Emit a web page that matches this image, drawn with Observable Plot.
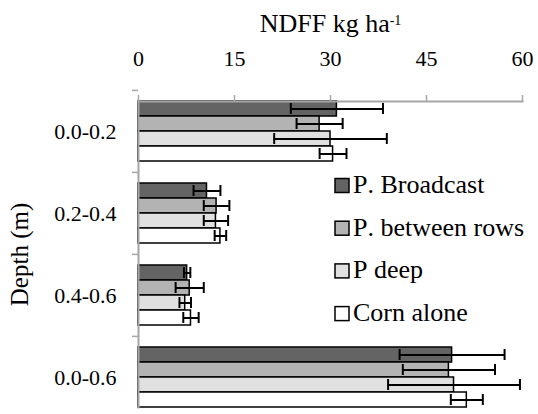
<!DOCTYPE html>
<html>
<head>
<meta charset="utf-8">
<script src="https://cdn.jsdelivr.net/npm/d3@7"></script>
<script src="https://cdn.jsdelivr.net/npm/@observablehq/plot@0.6"></script>
<style>
  html, body { margin: 0; padding: 0; background: #fff; }
  #chart { width: 538px; height: 414px; overflow: hidden; }
  #chart svg, #chart svg text, #chart svg tspan {
    font-kerning: none;
    font-feature-settings: "kern" 0, "liga" 0;
    text-rendering: optimizeSpeed;
  }
</style>
</head>
<body>
<div id="chart"></div>
<script>
const depths = ["0.0-0.2", "0.2-0.4", "0.4-0.6", "0.0-0.6"];
const treatments = ["P. Broadcast", "P. between rows", "P deep", "Corn alone"];
const broadcastMean = [31.0, 10.7, 7.6, 49.0];
const betweenMean   = [28.3, 12.2, 8.0, 48.5];
const deepMean      = [30.0, 12.1, 7.3, 49.3];
const cornMean      = [30.4, 12.8, 8.2, 51.3];
const broadcastSE = [7.2, 2.1, 0.5, 8.2];
const betweenSE   = [3.6, 2.0, 2.2, 7.2];
const deepSE      = [8.8, 1.9, 0.9, 10.3];
const cornSE      = [2.1, 0.9, 1.2, 2.5];
const xTicks = [0, 15, 30, 45, 60];
const fills = ["#646464", "#b3b3b3", "#e0e0e0", "#ffffff"];
const axisGray = "#a6a6a6";

const means = [broadcastMean, betweenMean, deepMean, cornMean];
const ses = [broadcastSE, betweenSE, deepSE, cornSE];
const rows = depths.flatMap((depth, di) =>
  treatments.map((treatment, ti) => ({depth, treatment, mean: means[ti][di], se: ses[ti][di]}))
);

const font = "'Liberation Serif', 'Times New Roman', serif";

const chart = Plot.plot({
  width: 538,
  height: 414,
  marginTop: 89,
  marginLeft: 138,
  marginRight: 16,
  marginBottom: -4,
  style: {fontFamily: font, fontSize: "22px", color: "black", background: "white", overflow: "visible"},
  x: {domain: [0, 60], axis: null},
  fy: {domain: depths, paddingInner: 0.27, paddingOuter: 0.135, axis: null},
  y: {domain: treatments, padding: 0, axis: null},
  color: {domain: treatments, range: fills},
  marks: [
    Plot.barX(rows, {fy: "depth", y: "treatment", x: "mean", fill: "treatment", stroke: "black", strokeWidth: 1.5}),
    Plot.ruleY(rows, {fy: "depth", y: "treatment", x1: d => d.mean - d.se, x2: d => d.mean + d.se, stroke: "black", strokeWidth: 2}),
    Plot.tickX(rows, {fy: "depth", y: "treatment", x: d => d.mean - d.se, stroke: "black", strokeWidth: 2, insetTop: 2, insetBottom: 2}),
    Plot.tickX(rows, {fy: "depth", y: "treatment", x: d => d.mean + d.se, stroke: "black", strokeWidth: 2, insetTop: 2, insetBottom: 2}),
    Plot.axisX({anchor: "top", ticks: xTicks, tickSize: 7, tickPadding: 29, stroke: axisGray, strokeWidth: 1.5, fill: "black", fontSize: 22,
      label: "NDFF kg ha-1", labelAnchor: "center", labelOffset: 88, labelArrow: "none"}),
    Plot.axisFy({anchor: "left", tickSize: 6, text: null, dy: -41.1, stroke: axisGray, strokeWidth: 1.5, label: null}),
    Plot.axisFy({anchor: "left", tickSize: 0, tickPadding: 22, fill: "black", fontSize: 22,
      label: "Depth (m)", labelAnchor: "center", labelOffset: 128}),
    Plot.frame({anchor: "top", facet: "super", stroke: axisGray, strokeWidth: 2}),
    Plot.frame({anchor: "left", facet: "super", stroke: axisGray, strokeWidth: 2})
  ]
});

document.getElementById("chart").appendChild(chart);
const svg = d3.select(chart);

svg.selectAll("g[aria-label$='tick label'] text, g[aria-label$='tick label']")
  .style("font-size", "22px").style("font-family", font).style("font-variant", "normal")
  .style("font-kerning", "none").style("font-feature-settings", "\"kern\" 0");

svg.selectAll("text").each(function() {
  const t = d3.select(this);
  const s = t.text().trim();
  if (s.startsWith("NDFF")) {
    t.text("").style("font-size", "26px");
    t.append("tspan").text("NDFF kg ha");
    t.append("tspan").attr("baseline-shift", "super").style("font-size", "14px").text("-1");
  } else if (s.startsWith("Depth")) {
    t.style("font-size", "25px");
  }
});

// Legend
const lg = svg.append("g").attr("font-family", font).attr("text-anchor", "start").style("font-size", "26px");
treatments.forEach((name, i) => {
  const base = 193 + i * 42.7;
  lg.append("rect").attr("x", 335).attr("y", base - 14.5).attr("width", 14).attr("height", 14)
    .attr("fill", fills[i]).attr("stroke", "black").attr("stroke-width", 1.5);
  lg.append("text").attr("x", 353).attr("y", base).attr("fill", "black").attr("text-anchor", "start").text(name);
});
</script>
</body>
</html>
